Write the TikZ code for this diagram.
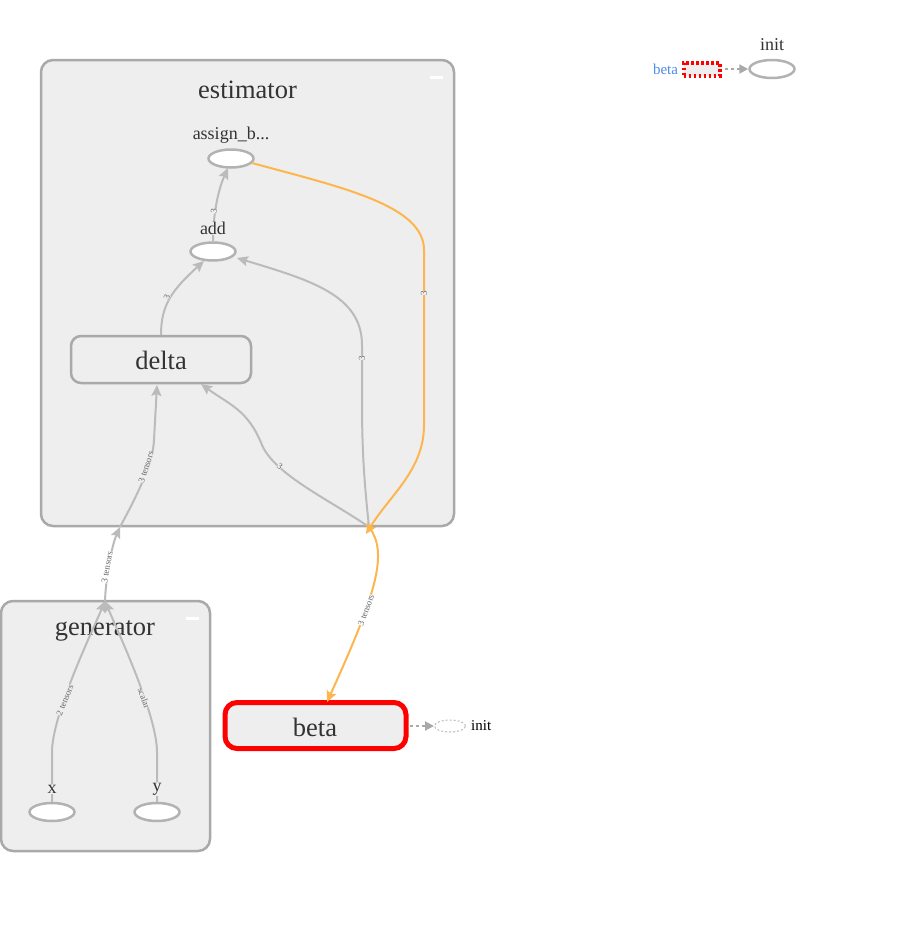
\documentclass[tikz,border=0pt]{standalone}
\usepackage{fontspec}
\setmainfont{Liberation Serif}
\usetikzlibrary{arrows.meta,shapes.geometric}
\definecolor{boxfill}{HTML}{EEEEEE}
\definecolor{boxline}{HTML}{A9A9A9}
\definecolor{edgegray}{HTML}{BBBBBB}
\definecolor{edgeorange}{HTML}{FDB54E}
\definecolor{txt}{HTML}{333333}
\definecolor{betablue}{HTML}{4C8BEA}
\definecolor{lbl}{HTML}{666666}
\tikzset{
  groupbox/.style={draw=boxline, fill=boxfill, line width=2.5pt, rounded corners=12pt, inner sep=0pt},
  opnode/.style={ellipse, draw=boxline!90, fill=white, line width=2.5pt, minimum width=45pt, minimum height=18pt, inner sep=0pt},
  opname/.style={text=txt, font=\fontsize{18}{20}\selectfont, inner sep=0.5pt, fill=boxfill},
  grouptitle/.style={text=txt, font=\fontsize{26.5}{30}\selectfont, inner sep=0pt},
  gedge/.style={draw=edgegray, line width=2pt},
  oedge/.style={draw=edgeorange, line width=2pt},
  tip/.style={-{Stealth[length=11pt,width=10pt,inset=2pt]}},
  elabel/.style={font=\fontsize{9}{10}\selectfont, text=lbl, inner sep=0pt, fill=boxfill},
  elabelw/.style={font=\fontsize{9}{10}\selectfont, text=lbl, inner sep=0pt, fill=white},
  minus/.style={fill=white, draw=none, minimum width=13pt, minimum height=3pt, inner sep=0pt},
}
\begin{document}
\begin{tikzpicture}[x=1pt,y=-1pt]
\useasboundingbox (0,0) rectangle (915,938);

% group boxes
\node[groupbox, minimum width=413pt, minimum height=466pt] (est) at (247.5,293) {};
\node[grouptitle] (esttitle) at (247.5,90) {estimator};
\node[minus] (estminus) at (436,77.5) {};

\node[groupbox, minimum width=209pt, minimum height=250pt] (gen) at (105.5,726) {};
\node[grouptitle] (gentitle) at (105,631) {generator};
\node[minus] (genminus) at (192,618.5) {};

% inner nodes
\node[opnode] (assign) at (231,158.5) {};
\node[opnode] (add) at (213,251.5) {};
\node[groupbox, rounded corners=10pt, minimum width=180pt, minimum height=47pt] (delta) at (161,359.5) {};
\node[grouptitle] (deltalbl) at (161,360) {delta};

\node[opnode] (x) at (52,812) {};
\node[opnode] (y) at (157,812) {};

\node[groupbox, draw=red, line width=5pt, minimum width=181pt, minimum height=46pt] (beta) at (315.5,725.5) {};
\node[grouptitle] (betalbl) at (315,727) {beta};

% bottom init
\node[ellipse, draw=edgegray, dashed, dash pattern=on 2pt off 2pt, line width=1pt, fill=white, minimum width=31pt, minimum height=12pt, inner sep=0pt] (binit) at (450,726) {};
\node[font=\fontsize{15}{16}\selectfont, inner sep=0pt, anchor=west] (binitlbl) at (471,726) {init};
\draw[draw=boxline, line width=2pt, dash pattern=on 3pt off 3pt, -{Triangle[length=9pt,width=9pt]}] (410,726) -- (binit.west);

% top-right legend
\node[font=\fontsize{15}{16}\selectfont, text=betablue, inner sep=0pt] (tbeta) at (665.5,69) {beta};
\node[draw=red, fill=boxfill, line width=4pt, dash pattern=on 2.5pt off 2.5pt, minimum width=36pt, minimum height=13pt, inner sep=0pt] (tbox) at (701.5,69) {};
\node[opnode] (tinit) at (772,69) {};
\node[text=txt, font=\fontsize{18}{20}\selectfont, inner sep=0pt] (tinitlbl) at (772,45) {init};
\draw[draw=boxline, line width=2pt, dash pattern=on 3pt off 3pt, -{Triangle[length=9pt,width=9pt]}] (tbox.east) ++(3,0) -- (tinit.west);

% connection points on group border
\coordinate (estin) at (120,527);
\coordinate (estout) at (369,527);
\coordinate (genout) at (105,601);

% edges inside generator
\draw[gedge, tip] (x.north) -- (52,752) .. controls (52,715) and (92,632) .. (genout);
\draw[gedge, tip] (y.north) -- (157,752) .. controls (157,715) and (118,632) .. (genout);
\node[elabel, rotate=68] (l1) at (65,700) {2 tensors};
\node[elabel, rotate=-70] (l2) at (144,698) {scalar};

% generator -> estimator
\draw[gedge, tip] (genout) .. controls (106,575) and (112,545) .. (estin);
\node[elabelw, rotate=80] (l3) at (107,567) {3 tensors};
\draw[gedge, tip] (estin) .. controls (140,490) and (153,462) .. (154,440) -- (157,385);
\node[elabel, rotate=72] (l4) at (146,467) {3 tensors};

% inside estimator
\draw[gedge, tip] (delta.north) .. controls (161,305) and (172,290) .. (204,261);
\node[elabel, rotate=65] (l5) at (167,297) {3};
\draw[gedge, tip] (add.north) .. controls (213,215) and (218,190) .. (228,168);
\node[elabel, rotate=85] (l6) at (214,211) {3};
\draw[gedge, tip] (estout) .. controls (364,480) and (362,450) .. (362,400) -- (362,345)
  .. controls (362,295) and (310,280) .. (237,258);
\node[elabel, rotate=90] (l7) at (362,358) {3};
\draw[gedge, tip] (estout) .. controls (330,500) and (275,475) .. (262,445)
  .. controls (248,410) and (230,405) .. (201,384);
\node[elabel, rotate=-35] (l8) at (280,466) {3};

% orange edges
\draw[oedge, tip] (252,163) .. controls (340,187) and (424,205) .. (424,250) -- (424,425)
  .. controls (424,470) and (390,495) .. (366,534);
\node[elabel, rotate=90] (l9) at (424,293) {3};
\draw[oedge, tip] (estout) .. controls (388,552) and (378,590) .. (327,702);
\node[elabelw, rotate=70] (l10) at (366,610) {3 tensors};

% op names (drawn over the edges)
\node[opname] (assignlbl) at (231,135) {assign\_b...};
\node[opname] (addlbl) at (213,228) {add};
\node[opname] (xlbl) at (52,789) {x};
\node[opname] (ylbl) at (157,789) {y};

\end{tikzpicture}
\end{document}
